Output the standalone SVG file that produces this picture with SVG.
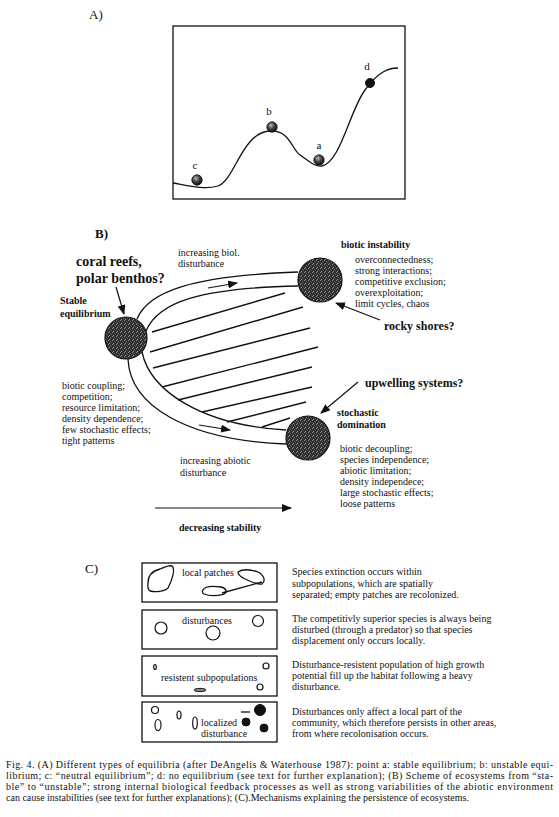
<svg xmlns="http://www.w3.org/2000/svg" width="559" height="817" viewBox="0 0 559 817">
<style>
  text { font-family: "Liberation Serif", "Times New Roman", serif; fill: #111; }
  .lbl { font-size: 13px; }
  .reg { font-size: 10px; }
  .b10 { font-size: 10px; font-weight: bold; }
  .b12 { font-size: 12px; font-weight: bold; }
  .b14 { font-size: 14px; font-weight: bold; }
  .pt { font-size: 11px; }
  .cap { font-size: 10px; }
  .line { fill: none; stroke: #111; stroke-width: 1.3; }
  .hatch { fill: none; stroke: #111; stroke-width: 1.4; }
  .box { fill: #fff; stroke: #111; stroke-width: 1.3; }
  .ball { fill: url(#stip); stroke: #111; stroke-width: 1.2; }
  .sph { fill: url(#sph); stroke: #111; stroke-width: 0.8; }
  .open { fill: #fff; stroke: #111; stroke-width: 1.2; }
  .blk { fill: #111; stroke: #111; stroke-width: 1; }
  .arr { fill: none; stroke: #111; stroke-width: 1.2; marker-end: url(#ah); }
</style>
<defs>
  <marker id="ah" markerWidth="10" markerHeight="8" refX="9" refY="4" orient="auto" markerUnits="userSpaceOnUse">
    <path d="M0,0 L10,4 L0,8 Z" fill="#111"/>
  </marker>
  <pattern id="stip" width="4" height="4" patternUnits="userSpaceOnUse">
    <rect width="4" height="4" fill="#2e2e2e"/>
    <rect x="0" y="0" width="1" height="1" fill="#8a8a8a"/>
    <rect x="2" y="1" width="1" height="1" fill="#6a6a6a"/>
    <rect x="1" y="3" width="1" height="1" fill="#9a9a9a"/>
    <rect x="3" y="2" width="1" height="1" fill="#555"/>
  </pattern>
  <radialGradient id="sph" cx="0.4" cy="0.35" r="0.65">
    <stop offset="0" stop-color="#bbb"/>
    <stop offset="0.5" stop-color="#444"/>
    <stop offset="1" stop-color="#111"/>
  </radialGradient>
</defs>
<rect width="559" height="817" fill="#fff"/>

<!-- Panel A -->
<g id="panelA">
  <text class="lbl" x="89" y="19">A)</text>
  <rect class="box" x="173" y="26" width="232" height="173" stroke-width="1.6"/>
  <path class="line" d="M173,183 C190,186 205,190 218,186 C235,180 242,132 270,131 C290,130 292,150 300,155 C310,162 315,167 322,166 C340,163 350,110 365,90 C378,72 388,68 398,68"/>
  <g id="ptC"><circle class="sph" cx="197" cy="180" r="5.2"/><text class="pt" x="195" y="169" text-anchor="middle">c</text></g>
  <g id="ptB"><circle class="sph" cx="272" cy="127" r="5.2"/><text class="pt" x="269" y="115" text-anchor="middle">b</text></g>
  <g id="ptA"><circle class="sph" cx="319" cy="160" r="5.2"/><text class="pt" x="319" y="149" text-anchor="middle">a</text></g>
  <g id="ptD"><circle class="blk" cx="370" cy="83" r="4.5"/><text class="pt" x="367" y="70" text-anchor="middle">d</text></g>
</g>

<!-- Panel B -->
<g id="panelB">
  <text class="lbl" x="95" y="238" font-weight="bold">B)</text>
  <g id="connectors">
    <path class="line" d="M137,319 C148,292 190,276 298,272"/>
    <path class="line" d="M146,331 C158,302 200,288 298,286"/>
    <path class="line" d="M128,359 C130,405 185,440 286,444"/>
    <path class="line" d="M142,352 C150,390 200,425 286,430"/>
    <line class="arr" x1="208" y1="288" x2="237" y2="283"/>
    <line class="arr" x1="199" y1="425" x2="230" y2="430"/>
    <line class="arr" x1="116" y1="287" x2="124" y2="314"/>
    <line class="arr" x1="380" y1="320" x2="336" y2="303"/>
    <line class="arr" x1="358" y1="382" x2="321" y2="413"/>
    <line class="arr" x1="155" y1="508" x2="291" y2="508" stroke-width="1.8"/>
  </g>
  <g id="hatching">
    <line class="hatch" x1="152" y1="332" x2="285" y2="293"/>
    <line class="hatch" x1="150" y1="352" x2="303" y2="307"/>
    <line class="hatch" x1="153" y1="368" x2="310" y2="328"/>
    <line class="hatch" x1="162" y1="387" x2="318" y2="347"/>
    <line class="hatch" x1="178" y1="400" x2="312" y2="367"/>
    <line class="hatch" x1="202" y1="412" x2="312" y2="387"/>
    <line class="hatch" x1="227" y1="422" x2="306" y2="402"/>
    <line class="hatch" x1="262" y1="427" x2="290" y2="418"/>
  </g>
  <g id="stable">
    <circle class="ball" cx="126" cy="338" r="21"/>
    <text class="b10" x="60" y="304">Stable</text>
    <text class="b10" x="60" y="317">equilibrium</text>
    <text class="reg" x="62" y="389">biotic coupling;</text>
    <text class="reg" x="62" y="400">competition;</text>
    <text class="reg" x="62" y="411">resource limitation;</text>
    <text class="reg" x="62" y="422">density dependence;</text>
    <text class="reg" x="62" y="433">few stochastic effects;</text>
    <text class="reg" x="62" y="444">tight patterns</text>
  </g>
  <g id="instability">
    <circle class="ball" cx="320" cy="280" r="22"/>
    <text class="b10" x="341" y="248">biotic instability</text>
    <text class="reg" x="355" y="263">overconnectedness;</text>
    <text class="reg" x="355" y="274">strong interactions;</text>
    <text class="reg" x="355" y="285">competitive exclusion;</text>
    <text class="reg" x="355" y="296">overexploitation;</text>
    <text class="reg" x="355" y="307">limit cycles, chaos</text>
  </g>
  <g id="stochastic">
    <circle class="ball" cx="308" cy="438" r="22"/>
    <text class="b10" x="337" y="416">stochastic</text>
    <text class="b10" x="337" y="428">domination</text>
    <text class="reg" x="340" y="452">biotic decoupling;</text>
    <text class="reg" x="340" y="463">species independence;</text>
    <text class="reg" x="340" y="474">abiotic limitation;</text>
    <text class="reg" x="340" y="485">density independece;</text>
    <text class="reg" x="340" y="496">large stochastic effects;</text>
    <text class="reg" x="340" y="507">loose patterns</text>
  </g>
  <g id="examples">
    <text class="b14" x="76" y="266">coral reefs,</text>
    <text class="b14" x="76" y="283">polar benthos?</text>
    <text class="b12" x="384" y="330">rocky shores?</text>
    <text class="b12" x="365" y="387">upwelling systems?</text>
  </g>
  <g id="axislabels">
    <text class="reg" x="178" y="256">increasing biol.</text>
    <text class="reg" x="178" y="267">disturbance</text>
    <text class="reg" x="180" y="464">increasing abiotic</text>
    <text class="reg" x="180" y="476">disturbance</text>
    <text class="b10" x="179" y="531">decreasing stability</text>
  </g>
</g>

<!-- Panel C -->
<g id="panelC">
  <text class="lbl" x="85" y="573">C)</text>
  <g id="c1">
    <rect class="box" x="142" y="563" width="135" height="39"/>
    <path class="line" d="M148,583 C148,576 152,571 160,569 C166,567 170,564 173,567 C175,572 171,582 168,588 C164,592 155,592 150,591 C147,589 148,586 148,583 Z"/>
    <path class="line" d="M238,572 C242,569 250,569 258,572 C264,575 266,581 262,584 C257,585 250,581 245,579 C241,577 238,575 238,572 Z"/>
    <path class="line" d="M203,590 C205,586 214,586 221,587 C226,588 228,592 224,594 C217,596 209,596 204,594 C202,593 202,591 203,590 Z"/>
    <line class="line" x1="222" y1="593" x2="262" y2="582"/>
    <text class="reg" x="182" y="576">local patches</text>
    <text class="reg" x="292" y="575">Species extinction occurs within</text>
    <text class="reg" x="292" y="587">subpopulations, which are spatially</text>
    <text class="reg" x="292" y="598">separated; empty patches are recolonized.</text>
  </g>
  <g id="c2">
    <rect class="box" x="142" y="610" width="135" height="39"/>
    <circle class="open" cx="161" cy="628" r="6"/>
    <circle class="open" cx="213" cy="633" r="7"/>
    <circle class="open" cx="258" cy="621" r="5.5"/>
    <text class="reg" x="182" y="624">disturbances</text>
    <text class="reg" x="292" y="622">The competitivly superior species is always being</text>
    <text class="reg" x="292" y="633">disturbed (through a predator) so that species</text>
    <text class="reg" x="292" y="644">displacement only occurs locally.</text>
  </g>
  <g id="c3">
    <rect class="box" x="142" y="656" width="135" height="40"/>
    <ellipse class="open" cx="155" cy="667" rx="1.3" ry="2.5"/>
    <circle class="open" cx="266" cy="666" r="3"/>
    <circle class="open" cx="260" cy="687" r="3"/>
    <ellipse cx="200" cy="690" rx="6" ry="1.6" fill="#888" stroke="#111" stroke-width="1"/>
    <text class="reg" x="161" y="681">resistent subpopulations</text>
    <text class="reg" x="292" y="668">Disturbance-resistent population of high growth</text>
    <text class="reg" x="292" y="679">potential fill up the habitat following a heavy</text>
    <text class="reg" x="292" y="690">disturbance.</text>
  </g>
  <g id="c4">
    <rect class="box" x="142" y="702" width="135" height="40"/>
    <circle class="open" cx="155" cy="710" r="3.5"/>
    <ellipse class="open" cx="158" cy="725" rx="3" ry="5.5"/>
    <ellipse class="open" cx="179" cy="715" rx="2" ry="4"/>
    <ellipse class="open" cx="195" cy="723" rx="2.3" ry="6"/>
    <circle class="blk" cx="260" cy="710" r="5.5"/>
    <circle class="blk" cx="246" cy="722" r="4"/>
    <circle class="blk" cx="264" cy="728" r="4"/>
    <line class="line" x1="241" y1="712" x2="250" y2="712"/>
    <text class="reg" x="201" y="726">localized</text>
    <text class="reg" x="201" y="737">disturbance</text>
    <text class="reg" x="292" y="715">Disturbances only affect a local part of the</text>
    <text class="reg" x="292" y="726">community, which therefore persists in other areas,</text>
    <text class="reg" x="292" y="737">from where recolonisation occurs.</text>
  </g>
</g>

<!-- Caption -->
<g id="caption">
  <text class="cap" x="6" y="768" textLength="547" lengthAdjust="spacing">Fig. 4. (A) Different types of equilibria (after DeAngelis &amp; Waterhouse 1987): point a: stable equilibrium; b: unstable equi-</text>
  <text class="cap" x="6" y="779" textLength="547" lengthAdjust="spacing">librium; c: “neutral equilibrium”; d: no equilibrium (see text for further explanation); (B) Scheme of ecosystems from “sta-</text>
  <text class="cap" x="6" y="790" textLength="547" lengthAdjust="spacing">ble” to “unstable”; strong internal biological feedback processes as well as strong variabilities of the abiotic environment</text>
  <text class="cap" x="6" y="801">can cause instabilities (see text for further explanations); (C).Mechanisms explaining the persistence of ecosystems.</text>
</g>
</svg>
